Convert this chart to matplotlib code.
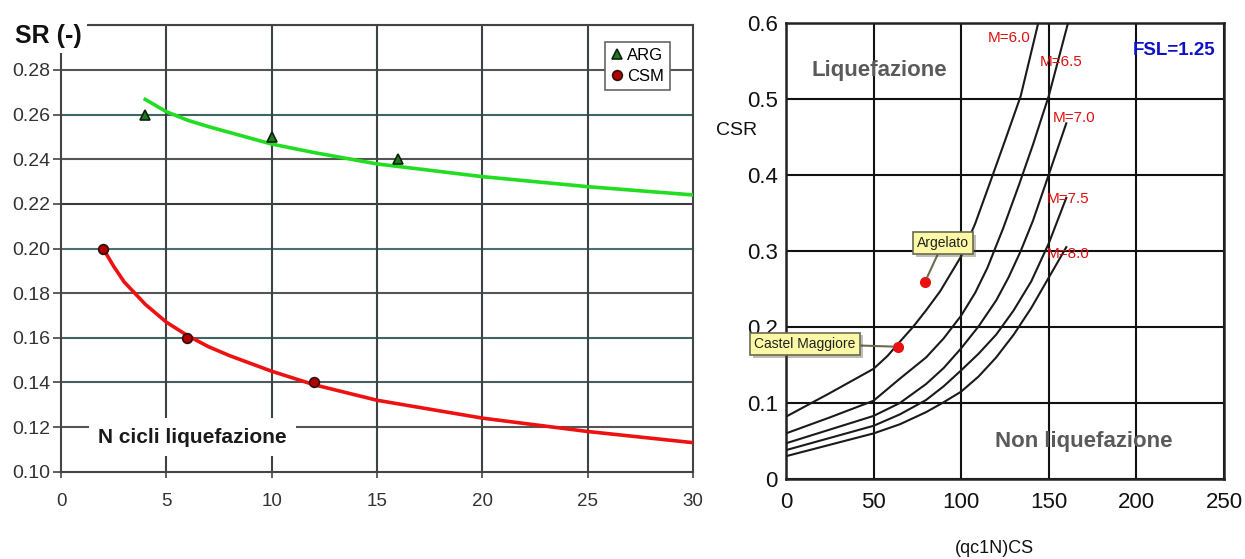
import matplotlib
matplotlib.use("Agg")
import matplotlib.pyplot as plt
import matplotlib.patheffects as pe

plt.rcParams['font.family'] = ['Liberation Sans', 'DejaVu Sans']

# ---- left chart: SR vs number of cycles ----
arg_n = [4, 10, 16]
arg_sr = [0.26, 0.25, 0.24]
csm_n = [2, 6, 12]
csm_sr = [0.20, 0.16, 0.14]

# trend lines
arg_fit_n = [4, 5, 6, 7, 8, 10, 12, 15, 20, 25, 30]
arg_fit_sr = [0.2668, 0.2613, 0.2575, 0.2546, 0.2520, 0.2468, 0.2430, 0.2379,
              0.2322, 0.2277, 0.2240]
csm_fit_n = [2, 2.5, 3, 3.5, 4, 5, 6, 7, 8, 10, 12, 15, 20, 25, 30]
csm_fit_sr = [0.200, 0.192, 0.185, 0.180, 0.175, 0.167, 0.161, 0.156, 0.152,
              0.145, 0.139, 0.132, 0.124, 0.118, 0.113]

sr_ticks = [0.10, 0.12, 0.14, 0.16, 0.18, 0.20, 0.22, 0.24, 0.26, 0.28]
n_ticks = [0, 5, 10, 15, 20, 25, 30]

# ---- right chart: CSR vs (qc1N)cs ----
qc_m60 = [0, 25, 50, 58, 64, 72.5, 80, 88, 100, 108, 116, 125, 134, 144]
csr_m60 = [0.082, 0.113, 0.145, 0.162, 0.178, 0.200, 0.222, 0.247, 0.293, 0.336,
           0.387, 0.445, 0.504, 0.600]
qc_m65 = [0, 25, 50, 65, 80, 90, 100, 108, 115, 124, 133, 141, 150, 161]
csr_m65 = [0.060, 0.081, 0.103, 0.132, 0.160, 0.185, 0.215, 0.245, 0.278, 0.330,
           0.387, 0.440, 0.504, 0.600]
qc_m70 = [0, 25, 50, 65, 80, 90, 100, 110, 120, 127, 134, 141, 148, 160]
csr_m70 = [0.047, 0.065, 0.083, 0.100, 0.125, 0.146, 0.172, 0.201, 0.235, 0.265,
           0.300, 0.340, 0.387, 0.468]
qc_m75 = [0, 25, 50, 65, 80, 90, 100, 110, 120, 130, 140, 150, 160]
csr_m75 = [0.038, 0.054, 0.070, 0.085, 0.104, 0.122, 0.143, 0.165, 0.190, 0.222,
           0.260, 0.310, 0.370]
qc_m80 = [0, 25, 50, 65, 80, 90, 100, 110, 120, 130, 140, 150, 160]
csr_m80 = [0.030, 0.045, 0.060, 0.072, 0.088, 0.101, 0.115, 0.135, 0.160, 0.190,
           0.225, 0.265, 0.305]

sites = ['Argelato', 'Castel Maggiore']
site_qc = [79.3, 64.0]
site_csr = [0.259, 0.174]

qc_ticks = [0, 50, 100, 150, 200, 250]
csr_ticks = [0, 0.1, 0.2, 0.3, 0.4, 0.5, 0.6]
csr_labels = ['0', '0.1', '0.2', '0.3', '0.4', '0.5', '0.6']

fig = plt.figure(figsize=(12.45, 5.59), dpi=100)

# left panel
ax1 = fig.add_axes([0.049, 0.1562, 0.5077, 0.7985])
ax1.set_xlim(0, 30)
ax1.set_ylim(0.10, 0.30)
ax1.set_xticks(n_ticks)
ax1.set_yticks(sr_ticks)
ax1.set_yticklabels(['%.2f' % v for v in sr_ticks])
grid_cols = ['#555555', '#4a5c5c', '#3f6464', '#555555', '#4f6f6f',
             '#3c3c3c', '#555555', '#3f6464', '#555555', '#4a4a4a']
for v, c in zip(sr_ticks[1:] + [0.30], grid_cols):
    ax1.axhline(v, color=c, lw=1.5, zorder=1)
for v in n_ticks[1:-1]:
    ax1.axvline(v, color='#3a4444', lw=1.5, zorder=1)
for s in ax1.spines.values():
    s.set_color('#444444')
    s.set_linewidth(1.5)
ax1.tick_params(axis='y', direction='out', length=6, width=1.2, color='#444444',
                pad=2, labelsize=14, labelcolor='#333333')
ax1.tick_params(axis='x', direction='out', length=4, width=1.2, color='#444444',
                pad=11, labelsize=13.5, labelcolor='#333333')

ax1.plot(arg_fit_n, arg_fit_sr, color='#22dd22', lw=2.6, zorder=3)
ax1.plot(csm_fit_n, csm_fit_sr, color='#ee1111', lw=2.6, zorder=3)
ax1.plot(arg_n, arg_sr, ls='none', marker='^', ms=7, mfc='#1e7a1e', mec='#102010',
         mew=1.2, label='ARG', zorder=4)
ax1.plot(csm_n, csm_sr, ls='none', marker='o', ms=7, mfc='#b00000', mec='#301010',
         mew=1.2, label='CSM', zorder=4)

leg = ax1.legend(loc='upper right', bbox_to_anchor=(0.9637, 0.9626), borderaxespad=0,
                 fontsize=12, handlelength=0.7, handletextpad=0.3, fancybox=False,
                 framealpha=1, borderpad=0.35, labelspacing=0.35)
leg.get_frame().set_edgecolor('#666666')
leg.get_frame().set_linewidth(1.2)

ax1.text(1.75, 0.1155, 'N cicli liquefazione', fontsize=15, fontweight='bold',
         color='#1a1a1a', va='center', ha='left', zorder=5,
         bbox=dict(boxstyle='square,pad=0.45', fc='white', ec='none'))
fig.text(0.012, 0.936, 'SR (-)', fontsize=18, fontweight='bold', color='#111111',
         va='center', ha='left', zorder=10,
         bbox=dict(boxstyle='square,pad=0.2', fc='white', ec='none'))

# right panel
ax2 = fig.add_axes([0.6313, 0.1431, 0.3518, 0.8158])
ax2.set_xlim(0, 250)
ax2.set_ylim(0, 0.6)
ax2.set_xticks(qc_ticks)
ax2.set_yticks(csr_ticks)
ax2.set_yticklabels(csr_labels)
ax2.grid(True, color='#111111', lw=1.5)
ax2.set_axisbelow(True)
for s in ax2.spines.values():
    s.set_color('#222222')
    s.set_linewidth(1.8)
ax2.tick_params(axis='both', length=0, labelsize=16, labelcolor='#111111')
ax2.tick_params(axis='x', pad=9)
ax2.tick_params(axis='y', pad=6)

for q, c in [(qc_m60, csr_m60), (qc_m65, csr_m65), (qc_m70, csr_m70),
             (qc_m75, csr_m75), (qc_m80, csr_m80)]:
    ax2.plot(q, c, color='#1a1a1a', lw=1.5, zorder=3)

m_labels = ['M=6.0', 'M=6.5', 'M=7.0', 'M=7.5', 'M=8.0']
m_pos = [(115.3, 0.580), (145.0, 0.549), (152.4, 0.475), (149.0, 0.368), (149.0, 0.296)]
for lab, (x, y) in zip(m_labels, m_pos):
    ax2.text(x, y, lab, color='#dd1111', fontsize=11, ha='left', va='center', zorder=4)

ax2.text(198, 0.564, 'FSL=1.25', color='#1010c8', fontsize=13.5, fontweight='bold',
         ha='left', va='center')
ax2.text(14.8, 0.538, 'Liquefazione', color='#5a5a5a', fontsize=16, fontweight='bold',
         ha='left', va='center', zorder=4)
ax2.text(119.3, 0.05, 'Non liquefazione', color='#5a5a5a', fontsize=16,
         fontweight='bold', ha='left', va='center', zorder=4)

ax2.plot(site_qc, site_csr, ls='none', marker='o', ms=7, color='#e81010', zorder=6)
box_pos = [(89.6, 0.3105), (10.8, 0.178)]
for name, q, c, bp in zip(sites, site_qc, site_csr, box_pos):
    t = ax2.annotate(name, xy=(q, c), xytext=bp, ha='center', va='center',
                     fontsize=10, color='#222222', zorder=7, annotation_clip=False,
                     bbox=dict(boxstyle='square,pad=0.3', fc='#fbf8a6', ec='#6b6b50',
                               lw=1.2),
                     arrowprops=dict(arrowstyle='-', color='#6b6b50', lw=1.5,
                                     shrinkA=0, shrinkB=4))
    t.get_bbox_patch().set_path_effects([pe.SimplePatchShadow(offset=(2, -2), alpha=0.35),
                                         pe.Normal()])

fig.text(0.592, 0.767, 'CSR', fontsize=14, color='#111111', ha='center', va='center')
fig.text(0.799, 0.018, '(qc1N)CS', fontsize=13, color='#111111', ha='center', va='center')

fig.savefig('out.png', dpi=100, facecolor='white')
